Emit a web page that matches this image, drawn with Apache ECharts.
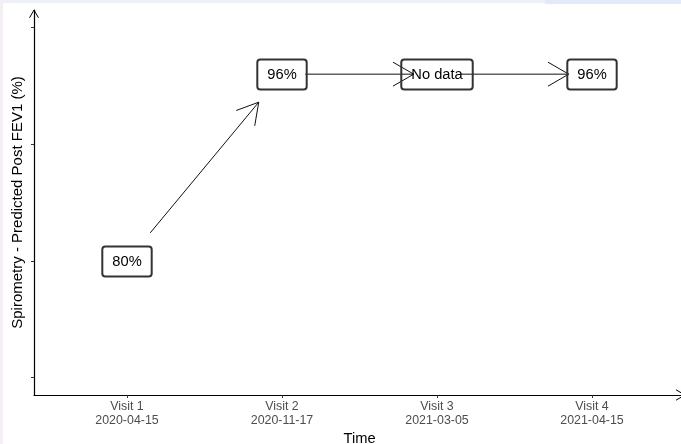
<!DOCTYPE html>
<html><head><meta charset="utf-8">
<script src="https://cdn.jsdelivr.net/npm/echarts@6/dist/echarts.min.js"></script>
<style>html,body{margin:0;padding:0;background:#fff}#c{width:681px;height:444px}</style>
</head><body><div id="c"></div>
<script>
const visits = ['Visit 1', 'Visit 2', 'Visit 3', 'Visit 4'];
const visitDates = ['2020-04-15', '2020-11-17', '2021-03-05', '2021-04-15'];
const visitIndex = [1, 2, 3, 4];
const fev1Pct = [80, 96, null, 96];
const labelY = [80, 96, 96, 96];          // vertical position of each box ("No data" kept at previous level)
const pointLabels = ['80%', '96%', 'No data', '96%'];
const yTicks = [70, 80, 90, 100];

const ARROW_GAP = 0.15; // fraction of each step left free at both ends of an arrow

// arrows between consecutive visits
const arrowSegs = [];
for (let i = 0; i < visitIndex.length - 1; i++) {
  const x0 = visitIndex[i], x1 = visitIndex[i + 1];
  const y0 = labelY[i], y1 = labelY[i + 1];
  arrowSegs.push([
    x0 + ARROW_GAP * (x1 - x0), y0 + ARROW_GAP * (y1 - y0),
    x1 - ARROW_GAP * (x1 - x0), y1 - ARROW_GAP * (y1 - y0)
  ]);
}

const FONT = '"Liberation Sans", Arial, sans-serif';
const chart = echarts.init(document.getElementById('c'), null, { renderer: 'canvas' });

function renderArrow(params, api) {
  const p1 = api.coord([api.value(0), api.value(1)]);
  const p2 = api.coord([api.value(2), api.value(3)]);
  const ang = Math.atan2(p2[1] - p1[1], p2[0] - p1[0]);
  const L = 24, A = Math.PI / 6;
  const l1 = [p2[0] - L * Math.cos(ang - A), p2[1] - L * Math.sin(ang - A)];
  const l2 = [p2[0] - L * Math.cos(ang + A), p2[1] - L * Math.sin(ang + A)];
  return {
    type: 'group',
    children: [
      { type: 'line', shape: { x1: p1[0], y1: p1[1], x2: p2[0], y2: p2[1] }, style: { stroke: '#111', lineWidth: 1 } },
      { type: 'polyline', shape: { points: [l1, p2, l2] }, style: { stroke: '#111', fill: null, lineWidth: 1 } }
    ]
  };
}

function renderLabel(params, api) {
  const p = api.coord([api.value(0), api.value(1)]);
  return {
    type: 'text',
    x: Math.round(p[0]), y: Math.round(p[1]) + 0.5,
    style: {
      text: pointLabels[params.dataIndex],
      font: '14.7px ' + FONT,
      lineHeight: 17,
      fill: '#000',
      align: 'center', verticalAlign: 'middle',
      padding: [7, 10, 6, 10],
      borderColor: '#333', borderWidth: 1, borderRadius: 3,
      backgroundColor: 'transparent'
    }
  };
}

chart.setOption({
  animation: false,
  backgroundColor: '#fff',
  grid: { left: 34, top: 10, width: 651, height: 385, containLabel: false, outerBoundsMode: 'none' },
  xAxis: {
    type: 'value', min: 0.4, max: 4.6,
    name: 'Time', nameLocation: 'middle', nameGap: 31,
    nameTextStyle: { fontFamily: FONT, fontSize: 14.7, color: '#000' },
    axisLine: { show: true, lineStyle: { color: '#000', width: 1.2 } },
    axisTick: { show: true, length: 3, lineStyle: { color: '#333' }, customValues: visitIndex },
    axisLabel: {
      show: true, margin: 5, customValues: visitIndex,
      fontFamily: FONT, fontSize: 12.4, lineHeight: 13.5, color: '#4d4d4d',
      formatter: v => visits[Math.round(v) - 1] + '\n' + visitDates[Math.round(v) - 1]
    },
    splitLine: { show: false }
  },
  yAxis: {
    type: 'value', min: 68.5, max: 101.5,
    name: 'Spirometry - Predicted Post FEV1 (%)', nameLocation: 'middle', nameGap: 9,
    nameTextStyle: { fontFamily: FONT, fontSize: 15, color: '#000' },
    axisLine: { show: true, lineStyle: { color: '#000', width: 1.2 } },
    axisTick: { show: true, length: 3, lineStyle: { color: '#333' }, customValues: yTicks },
    axisLabel: { show: false },
    splitLine: { show: false }
  },
  graphic: [
    { type: 'rect', shape: { x: 0, y: 0, width: 681, height: 3 }, style: { fill: '#eef0f8' }, silent: true, z: -10 },
    { type: 'rect', shape: { x: 545, y: 0, width: 136, height: 4 }, style: { fill: '#e2eafa' }, silent: true, z: -10 },
    { type: 'rect', shape: { x: 0, y: 0, width: 3, height: 444 }, style: { fill: '#f4eff5' }, silent: true, z: -10 },
    { type: 'polyline', shape: { points: [[29.5, 17.8], [34, 10], [38.5, 17.8]] }, style: { stroke: '#000', fill: null, lineWidth: 1 }, silent: true, z: 100 },
    { type: 'polyline', shape: { points: [[676, 389.8], [685, 395], [676, 400.2]] }, style: { stroke: '#000', fill: null, lineWidth: 1 }, silent: true, z: 100 }
  ],
  series: [
    {
      type: 'custom', renderItem: renderArrow, data: arrowSegs, silent: true, z: 3
    },
    {
      type: 'custom', renderItem: renderLabel, silent: true, z: 4,
      data: visitIndex.map((x, i) => [x, labelY[i], fev1Pct[i]])
    }
  ]
});
</script></body></html>
